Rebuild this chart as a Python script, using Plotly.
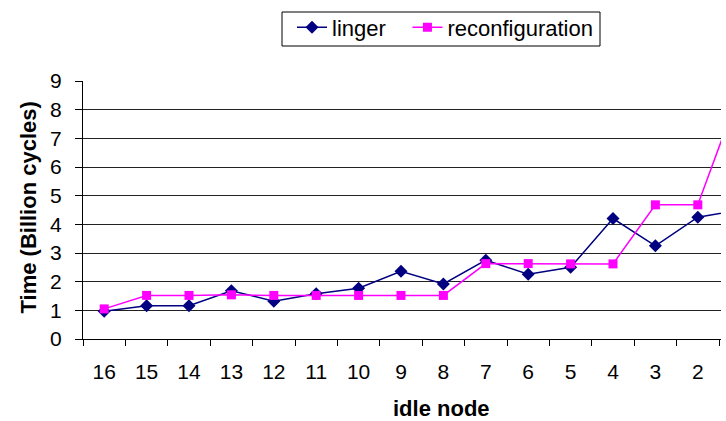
import plotly.graph_objects as go

categories = ["16", "15", "14", "13", "12", "11", "10", "9", "8", "7", "6", "5", "4", "3", "2", "1"]
linger = [0.97, 1.16, 1.16, 1.68, 1.32, 1.58, 1.77, 2.36, 1.92, 2.75, 2.26, 2.50, 4.20, 3.25, 4.25, 4.50]
reconfiguration = [1.05, 1.52, 1.52, 1.54, 1.52, 1.52, 1.52, 1.52, 1.52, 2.63, 2.63, 2.62, 2.62, 4.68, 4.68, 8.70]
y_ticks = [0, 1, 2, 3, 4, 5, 6, 7, 8, 9]

FONT = "Liberation Sans, Arial, sans-serif"
W, H = 726, 421
ML, MR, MT, MB = 83, 5, 81, 82
PW, PH = W - ML - MR, H - MT - MB
CAT_PX = 42.4


def px_x(p):
    return (p - ML) / PW


def px_y(p):
    return (H - MB - p) / PH


fig = go.Figure()
fig.add_trace(go.Scatter(
    x=categories, y=linger, name="linger\u00a0\u00a0\u2009", mode="lines+markers",
    line=dict(color="#000080", width=1.5),
    marker=dict(symbol="diamond", size=10, color="#000080"),
))
fig.add_trace(go.Scatter(
    x=categories, y=reconfiguration, name="reconfiguration", mode="lines+markers",
    line=dict(color="#FF00FF", width=1.5),
    marker=dict(symbol="square", size=9, color="#FF00FF"),
))

fig.update_layout(
    width=W, height=H,
    margin=dict(l=ML, r=MR, t=MT, b=MB),
    paper_bgcolor="white", plot_bgcolor="white",
    font=dict(family=FONT, color="black", size=21),
    showlegend=True,
    legend=dict(
        orientation="h", x=px_x(445), xanchor="center", y=px_y(6.5), yanchor="top",
        borderwidth=0, bgcolor="rgba(0,0,0,0)",
        font=dict(size=22, family=FONT),
    ),
    xaxis=dict(
        type="category", range=[-0.5, -0.5 + PW / CAT_PX],
        showline=True, linecolor="black", linewidth=1,
        ticks="outside", tickson="boundaries", ticklen=6, tickcolor="black",
        showgrid=False, zeroline=False,
        tickfont=dict(size=21), ticklabelstandoff=14,
    ),
    yaxis=dict(
        range=[0, 9], tickvals=y_ticks,
        showline=True, linecolor="black", linewidth=1,
        ticks="outside", ticklen=7, tickcolor="black",
        showgrid=True, gridcolor="#222222", gridwidth=1, zeroline=False,
        tickfont=dict(size=21), ticklabelstandoff=9,
    ),
    shapes=[
        dict(type="rect", xref="paper", yref="paper",
             x0=px_x(282), x1=px_x(600), y0=px_y(46), y1=px_y(12),
             line=dict(color="black", width=1), fillcolor="rgba(0,0,0,0)", layer="below"),
    ],
    annotations=[
        dict(text="<b>idle node</b>", xref="paper", yref="paper",
             x=px_x(441), y=px_y(408), xanchor="center", yanchor="middle",
             showarrow=False, font=dict(size=22, family=FONT)),
        dict(text="<b>Time (Billion cycles)</b>", xref="paper", yref="paper",
             x=px_x(27.5), y=px_y(208), xanchor="center", yanchor="middle", textangle=-90,
             showarrow=False, font=dict(size=22, family=FONT)),
    ],
)

fig.write_html("out.html")
